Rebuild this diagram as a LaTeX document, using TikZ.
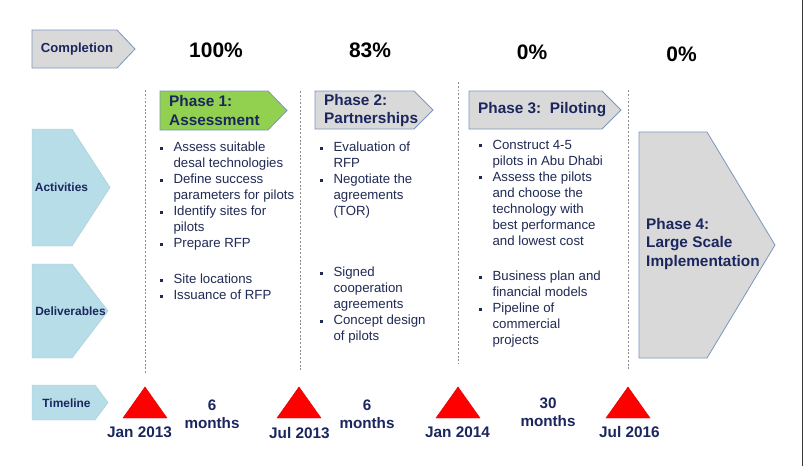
\documentclass[tikz,border=0pt]{standalone}
\usepackage{fontspec}
\setmainfont{Liberation Sans}
\usetikzlibrary{positioning}
\definecolor{navy}{RGB}{27,38,94}
\definecolor{bodytext}{RGB}{32,42,84}
\definecolor{phasegray}{RGB}{217,217,217}
\definecolor{phasegreen}{RGB}{146,208,80}
\definecolor{edgeblue}{RGB}{125,150,190}
\definecolor{rowteal}{RGB}{183,222,232}
\definecolor{sepgray}{RGB}{140,140,140}
\definecolor{framegray}{RGB}{60,60,60}
\newcommand{\bsq}{\makebox[0.4cm][l]{\rule[0.065cm]{0.085cm}{0.085cm}}}
\newcommand{\bind}{\hspace*{0.4cm}}
\tikzset{
    chevgray/.style={draw=edgeblue, fill=phasegray, line width=0.7pt, line join=miter},
    chevgreen/.style={draw=edgeblue, fill=phasegreen, line width=0.7pt, line join=miter},
    chevteal/.style={draw=rowteal!92!black, fill=rowteal, line width=0.4pt},
    rowlbl/.style={font=\bfseries\fontsize{10.2}{12}\selectfont, text=navy, inner sep=0pt},
    phaselbl/.style={font=\bfseries\fontsize{13.1}{15.8}\selectfont, text=navy, align=left, anchor=west, inner sep=0pt},
    pct/.style={font=\bfseries\fontsize{17.9}{21}\selectfont, text=black, inner sep=0pt},
    blist/.style={font=\fontsize{11.3}{13.66}\selectfont, text=bodytext, align=left, anchor=north west, inner sep=0pt},
    datelbl/.style={font=\bfseries\fontsize{13.1}{15.8}\selectfont, text=navy, inner sep=0pt},
    durlbl/.style={font=\bfseries\fontsize{13}{15.6}\selectfont, text=navy, align=center, inner sep=0pt},
    milestone/.style={fill=red, draw=red!90!black, line width=0.4pt},
    sep/.style={draw=sepgray, line width=0.7pt, dash pattern=on 1.6pt off 1.6pt},
}

\begin{document}
\begin{tikzpicture}[x=0.03cm, y=-0.03cm]
    \fill[white] (0,0) rectangle (803,466);
    \useasboundingbox (0,0) rectangle (803,466);
    \draw[framegray, line width=0.8pt] (802,0) -- (802,466);

    % row headers
    \draw[chevgray] (32,30) -- (117,30) -- (135,49) -- (117,68) -- (32,68) -- cycle;
    \draw[chevteal] (32,129) -- (72,129) -- (110,187.5) -- (72,246) -- (32,246) -- cycle;
    \draw[chevteal] (32,264) -- (72,264) -- (108,311) -- (72,358) -- (32,358) -- cycle;
    \draw[chevteal] (32,385) -- (95,385) -- (108,402.5) -- (95,420) -- (32,420) -- cycle;
    \node[rowlbl, font=\bfseries\fontsize{11.2}{13}\selectfont] (compl) at (77,49) {Completion};
    \node[rowlbl] (activ) at (61.5,187) {Activities};
    \node[rowlbl] (deliv) at (70.5,311) {Deliverables};
    \node[rowlbl] (timel) at (66.5,403) {Timeline};

    % completion
    \node[pct] (pct1) at (216,50) {100\%};
    \node[pct] (pct2) at (370,50) {83\%};
    \node[pct] (pct3) at (532,52) {0\%};
    \node[pct] (pct4) at (681.5,54.5) {0\%};

    % phase separators
    \draw[sep] (145,90) -- (145,374);
    \draw[sep] (300,91) -- (300,372);
    \draw[sep] (458,82) -- (458,364);
    \draw[sep] (628,90) -- (628,370);

    % phases
    \draw[chevgreen] (160,91) -- (268,91) -- (287,110.5) -- (268,130) -- (160,130) -- cycle;
    \draw[chevgray] (315,91) -- (414,91) -- (433,110) -- (414,129) -- (315,129) -- cycle;
    \draw[chevgray] (469,91) -- (602,91) -- (621,110) -- (602,129) -- (469,129) -- cycle;
    \draw[chevgray] (639,132) -- (707,132) -- (775,245) -- (707,358) -- (639,358) -- cycle;
    \node[phaselbl] (ph1) at (169,110.5) {Phase 1:\\Assessment};
    \node[phaselbl] (ph2) at (324,110.5) {Phase 2:\\Partnerships};
    \node[phaselbl] (ph3) at (478,110) {Phase 3:\ \ Piloting};
    \node[phaselbl] (ph4) at (646,244) {Phase 4:\\Large Scale\\Implementation};

    % activities
    \node[blist] (act1) at (160,142) {\bsq Assess suitable\\ \bind desal technologies\\ \bsq Define success\\ \bind parameters for pilots\\ \bsq Identify sites for\\ \bind pilots\\ \bsq Prepare RFP};
    \node[blist] (act2) at (320,142) {\bsq Evaluation of\\ \bind RFP\\ \bsq Negotiate the\\ \bind agreements\\ \bind (TOR)};
    \node[blist] (act3) at (479,140) {\bsq Construct 4-5\\ \bind pilots in Abu Dhabi\\ \bsq Assess the pilots\\ \bind and choose the\\ \bind technology with\\ \bind best performance\\ \bind and lowest cost};

    % deliverables
    \node[blist] (del1) at (160,274) {\bsq Site locations\\ \bsq Issuance of RFP};
    \node[blist] (del2) at (320,267) {\bsq Signed\\ \bind cooperation\\ \bind agreements\\ \bsq Concept design\\ \bind of pilots};
    \node[blist] (del3) at (479,271) {\bsq Business plan and\\ \bind financial models\\ \bsq Pipeline of\\ \bind commercial\\ \bind projects};

    % timeline
    \fill[milestone] (123,418) -- (145,387) -- (167,418) -- cycle;
    \fill[milestone] (277,418) -- (299,387) -- (321,418) -- cycle;
    \fill[milestone] (436,418) -- (458,387) -- (480,418) -- cycle;
    \fill[milestone] (606,418) -- (628,387) -- (650,418) -- cycle;
    \node[datelbl] (d1) at (139.5,432) {Jan 2013};
    \node[datelbl] (d2) at (299.5,433) {Jul 2013};
    \node[datelbl] (d3) at (457.5,432) {Jan 2014};
    \node[datelbl] (d4) at (629.5,432) {Jul 2016};
    \node[durlbl] (dur1) at (212,414) {6\\months};
    \node[durlbl] (dur2) at (367,414) {6\\months};
    \node[durlbl] (dur3) at (548,412.5) {30\\months};
\end{tikzpicture}
\end{document}
